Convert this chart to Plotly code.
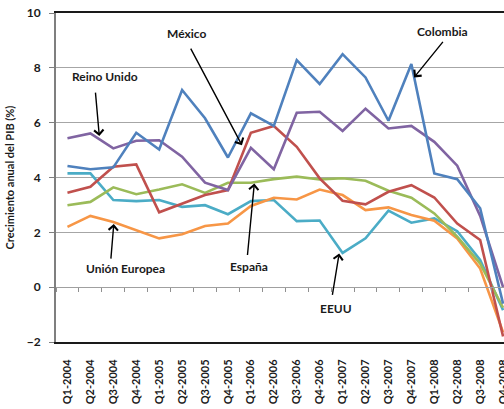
import plotly.graph_objects as go

quarters = ["Q1-2004", "Q2-2004", "Q3-2004", "Q4-2004",
            "Q1-2005", "Q2-2005", "Q3-2005", "Q4-2005",
            "Q1-2006", "Q2-2006", "Q3-2006", "Q4-2006",
            "Q1-2007", "Q2-2007", "Q3-2007", "Q4-2007",
            "Q1-2008", "Q2-2008", "Q3-2008", "Q4-2008"]

colombia = [4.42, 4.3, 4.37, 5.63, 5.02, 7.19, 6.16, 4.73, 6.34, 5.88,
            8.28, 7.41, 8.5, 7.65, 6.07, 8.14, 4.15, 3.94, 2.88, -0.6]
reino_unido = [5.43, 5.61, 5.06, 5.34, 5.36, 4.76, 3.81, 3.54, 5.08, 4.3,
               6.36, 6.4, 5.7, 6.51, 5.79, 5.88, 5.3, 4.43, 2.6, 0.0]
mexico = [3.44, 3.66, 4.39, 4.48, 2.73, 3.05, 3.36, 3.54, 5.63, 5.88,
          5.12, 3.97, 3.15, 3.02, 3.48, 3.72, 3.27, 2.32, 1.72, -1.8]
espana = [2.99, 3.11, 3.64, 3.39, 3.56, 3.75, 3.44, 3.81, 3.81, 3.94,
          4.03, 3.93, 3.97, 3.88, 3.52, 3.26, 2.69, 1.84, 0.86, -0.75]
union_europea = [2.2, 2.6, 2.38, 2.08, 1.78, 1.93, 2.23, 2.32, 2.96, 3.26,
                 3.2, 3.56, 3.36, 2.81, 2.91, 2.63, 2.42, 1.78, 0.68, -1.65]
eeuu = [4.15, 4.15, 3.18, 3.14, 3.18, 2.93, 2.99, 2.66, 3.14, 3.18,
        2.41, 2.43, 1.25, 1.78, 2.79, 2.35, 2.51, 2.04, 0.99, -0.84]

series = [
    ("EEUU", eeuu, "#4BACC6"),
    ("Unión Europea", union_europea, "#F79646"),
    ("España", espana, "#9BBB59"),
    ("México", mexico, "#C0504D"),
    ("Reino Unido", reino_unido, "#8064A2"),
    ("Colombia", colombia, "#4F81BD"),
]

FONT = "Lato"
fig = go.Figure()

# dummy trace carrying the category axis crossing at zero (tick marks)
fig.add_trace(go.Scatter(x=quarters, y=[None] * len(quarters), xaxis="x2",
                         mode="lines", showlegend=False, hoverinfo="skip"))

for name, vals, col in series:
    fig.add_trace(go.Scatter(x=quarters, y=vals, mode="lines", name=name,
                             line=dict(color=col, width=2.6),
                             showlegend=False))

# labels: (text, text_x, text_y, head_x, head_y, ax, ay)
labels = [
    ("México", 5.21, 9.25, 7.61, 5.18, -52, -98),
    ("Reino Unido", 1.62, 7.67, 1.39, 5.51, -4, -45),
    ("Colombia", 16.37, 9.31, 15.12, 7.65, 30, -37),
    ("Unión Europea", 2.53, 0.68, 2.02, 2.30, -3, 36),
    ("España", 7.90, 0.76, 8.15, 3.78, -7, 73),
    ("EEUU", 11.71, -0.78, 11.85, 1.23, -7, 43),
]
for txt, tx, ty, hx, hy, ax, ay in labels:
    fig.add_annotation(x=tx, y=ty, text=txt, showarrow=False,
                       font=dict(family=FONT, size=12, color="#1a1a1a", weight="bold"))
    fig.add_annotation(x=hx, y=hy, text="", showarrow=True, ax=ax, ay=ay,
                       arrowhead=4, arrowsize=1.3, arrowwidth=1.4, arrowcolor="black")

xr = [-0.5, 19.04]
fig.update_layout(
    width=504, height=409,
    margin=dict(l=56, r=0, t=13, b=67, autoexpand=False),
    paper_bgcolor="white", plot_bgcolor="white",
    font=dict(family=FONT, size=11, color="black"),
    showlegend=False,
    xaxis=dict(type="category", range=xr, tickangle=-90, ticks="",
               showgrid=False, showline=True, linecolor="#1a1a1a", linewidth=2,
               mirror=True, zeroline=False, ticklabelstandoff=11,
               automargin=False, ticklabeloverflow="allow",
               tickfont=dict(family=FONT, size=11, color="#1a1a1a", weight="bold")),
    xaxis2=dict(type="category", range=xr, overlaying="x", anchor="free",
                position=1 / 6, side="bottom", tickson="boundaries",
                ticks="outside", ticklen=4, tickcolor="#909090", tickwidth=1,
                showticklabels=False, showgrid=False, showline=True,
                linecolor="#a0a0a0", linewidth=1, zeroline=False, automargin=False),
    yaxis=dict(range=[-2, 10], dtick=2, showgrid=True, gridcolor="#a6a6a6",
               gridwidth=1, zeroline=False, showline=True, linecolor="#7f7f7f",
               linewidth=2, ticks="outside", ticklen=5, tickcolor="#7f7f7f",
               ticklabelstandoff=6, automargin=False,
               tickfont=dict(family=FONT, size=12, color="#1a1a1a", weight="bold"),
               title=dict(text="Crecimiento anual del PIB (%)", standoff=10,
                          font=dict(family=FONT, size=11, color="#1a1a1a", weight="bold"))),
)

fig.write_html("out.html", config={"displayModeBar": False, "staticPlot": True},
               post_script="document.body.style.margin='0px';document.body.style.overflow='hidden';")
